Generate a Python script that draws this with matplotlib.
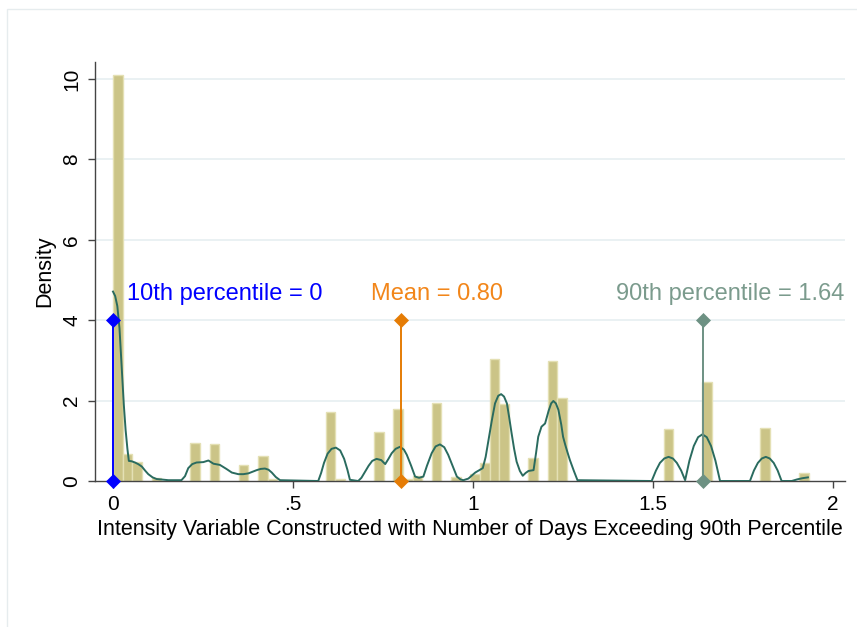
import numpy as np
import matplotlib.pyplot as plt
from matplotlib.patches import Rectangle

plt.rcParams['font.family'] = ['Liberation Sans', 'DejaVu Sans']

# Histogram (density scale), 72 equal bins over [0, hist_max]
hist_max = 1.932
n_bins = 72
bin_idx = [0, 1, 2, 4, 8, 10, 13, 15, 16, 22, 23, 27, 29, 30, 31, 33, 35,
           37, 38, 39, 40, 43, 45, 46, 57, 61, 67, 71]
bin_density = [10.1, 0.67, 0.47, 0.08, 0.95, 0.92, 0.40, 0.62, 0.06, 1.72,
               0.06, 1.23, 1.79, 0.06, 0.13, 1.95, 0.09, 0.17, 0.44, 3.03,
               1.92, 0.58, 2.98, 2.06, 1.29, 2.47, 1.31, 0.19]

# Kernel density curve
kde_x = [0.0, 0.006, 0.012, 0.018, 0.024, 0.03, 0.035, 0.04, 0.044, 0.052,
         0.061, 0.07, 0.08, 0.09, 0.098, 0.11, 0.121, 0.154, 0.19, 0.2,
         0.209, 0.22, 0.232, 0.251, 0.265, 0.279, 0.297, 0.315, 0.33, 0.348,
         0.362, 0.376, 0.39, 0.399, 0.41, 0.422, 0.432, 0.441, 0.452, 0.464,
         0.57, 0.578, 0.586, 0.596, 0.607, 0.619, 0.631, 0.642, 0.651, 0.658,
         0.681, 0.69, 0.70, 0.71, 0.72, 0.732, 0.745, 0.756, 0.765, 0.774,
         0.785, 0.797, 0.808, 0.816, 0.828, 0.839, 0.85, 0.862, 0.872, 0.885,
         0.896, 0.908, 0.92, 0.931, 0.943, 0.955, 0.965, 0.973, 0.987, 1.006,
         1.027, 1.035, 1.043, 1.052, 1.061, 1.07, 1.078, 1.086, 1.094, 1.10,
         1.107, 1.114, 1.121, 1.13, 1.138, 1.146, 1.154, 1.168, 1.175, 1.181,
         1.19, 1.20, 1.21, 1.217, 1.223, 1.23, 1.237, 1.245, 1.25, 1.256,
         1.262, 1.269, 1.28, 1.29, 1.496, 1.508, 1.519, 1.531, 1.543, 1.555,
         1.566, 1.578, 1.589, 1.601, 1.613, 1.625, 1.637, 1.649, 1.661, 1.673,
         1.686, 1.769, 1.78, 1.791, 1.802, 1.813, 1.824, 1.835, 1.846, 1.857,
         1.885, 1.90, 1.915, 1.93]
kde_y = [4.71, 4.60, 4.35, 3.80, 2.84, 1.90, 1.27, 0.80, 0.50, 0.49,
         0.46, 0.42, 0.36, 0.25, 0.17, 0.09, 0.05, 0.02, 0.02, 0.12,
         0.32, 0.42, 0.46, 0.47, 0.51, 0.43, 0.40, 0.30, 0.21, 0.17,
         0.17, 0.19, 0.24, 0.27, 0.30, 0.31, 0.28, 0.21, 0.10, 0.02,
         0.0, 0.20, 0.45, 0.68, 0.80, 0.83, 0.76, 0.55, 0.28, 0.03,
         0.0, 0.08, 0.23, 0.38, 0.50, 0.55, 0.52, 0.42, 0.55, 0.69,
         0.80, 0.85, 0.78, 0.65, 0.38, 0.11, 0.08, 0.11, 0.38, 0.69,
         0.86, 0.91, 0.84, 0.65, 0.38, 0.11, 0.04, 0.02, 0.06, 0.21,
         0.32, 0.60, 1.02, 1.50, 1.93, 2.12, 2.16, 2.10, 1.93, 1.60,
         1.19, 0.80, 0.48, 0.25, 0.13, 0.20, 0.25, 0.27, 0.70, 1.10,
         1.35, 1.43, 1.75, 1.93, 1.99, 1.93, 1.77, 1.40, 1.10, 0.90,
         0.72, 0.52, 0.25, 0.02, 0.0, 0.26, 0.45, 0.56, 0.60, 0.56,
         0.45, 0.26, 0.02, 0.51, 0.87, 1.09, 1.16, 1.09, 0.87, 0.51,
         0.0, 0.0, 0.26, 0.45, 0.56, 0.60, 0.56, 0.45, 0.26, 0.0,
         0.0, 0.04, 0.07, 0.09]

# Reference lines
ref_labels = ['10th percentile = 0', 'Mean = 0.80', '90th percentile = 1.64']
ref_x = [0.0, 0.80, 1.64]
ref_top = 4
ref_line_colors = ['#0000ff', '#e57c05', '#6d9183']
ref_text_colors = ['#0000ff', '#f2861a', '#7b9b8d']

fig = plt.figure(figsize=(8.57, 6.27), dpi=100)
fig.patch.set_facecolor('white')
fig.patches.append(Rectangle((7 / 857, -0.1), 1.2, 1 - 9 / 627 + 0.1,
                             transform=fig.transFigure, fill=False,
                             edgecolor='#e6ecee', linewidth=1.0))

ax = fig.add_axes([95 / 857, 146 / 627, 750 / 857, 419 / 627])

edges = np.linspace(0, hist_max, n_bins + 1)
width = edges[1] - edges[0]
lefts = [edges[i] for i in bin_idx]
ax.bar(lefts, bin_density, width=width, align='edge', color='#cbc487',
       edgecolor='#e4e0b4', linewidth=1.0, zorder=2)

ax.plot(kde_x, kde_y, color='#2a6b5f', linewidth=1.4, zorder=3)

text_dx = [0.038, -0.083, -0.243]
for lab, xv, lc, tc, dx in zip(ref_labels, ref_x, ref_line_colors,
                               ref_text_colors, text_dx):
    ax.plot([xv, xv], [0, ref_top], color=lc, linewidth=1.4, marker='D',
            markersize=7.5, markeredgewidth=0.5, zorder=4, clip_on=False)
    ax.text(xv + dx, 4.5, lab, color=tc, fontsize=17, ha='left',
            va='baseline', zorder=5)

ax.set_xlim(-0.05, 2.033)
ax.set_ylim(0, 10.42)
ax.set_xticks([0, 0.5, 1, 1.5, 2])
ax.set_xticklabels(['0', '.5', '1', '1.5', '2'])
ax.set_yticks([0, 2, 4, 6, 8, 10])
ax.set_yticklabels(['0', '2', '4', '6', '8', '10'], rotation=90, va='center')
ax.tick_params(axis='both', labelsize=15, length=5, width=1,
               color='#444444', pad=5)
for gy in [2, 4, 6, 8, 10]:
    ax.axhline(gy, color='#e8f0f2', linewidth=1.3, zorder=1)

for side in ['top', 'right']:
    ax.spines[side].set_visible(False)
for side in ['left', 'bottom']:
    ax.spines[side].set_color('#444444')
    ax.spines[side].set_linewidth(1.0)

ax.set_ylabel('Density', fontsize=15.5, labelpad=5)
ax.set_xlabel('Intensity Variable Constructed with Number of Days Exceeding 90th Percentile',
              fontsize=15.5, labelpad=4)

fig.savefig('out.png', dpi=100)
